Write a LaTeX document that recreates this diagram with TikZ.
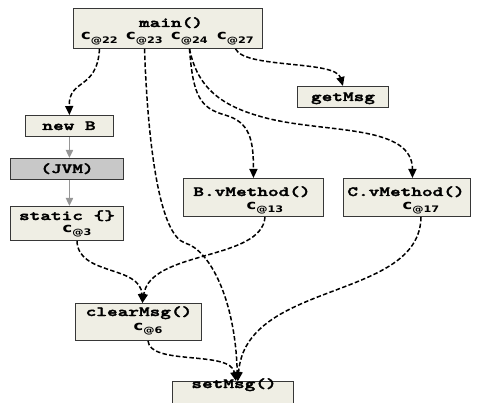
\documentclass[tikz,border=0pt]{standalone}
\usepackage{fontspec}
\usetikzlibrary{arrows.meta}
\newfontfamily\csansfnt[FakeStretch=1.25]{DejaVu Sans}
\newfontfamily\monofnt[FakeStretch=1.45,FakeBold=2.5]{lmmonolt10-bold.otf}
\definecolor{boxfill}{RGB}{239,238,228}
\definecolor{jvmfill}{RGB}{200,200,200}
\definecolor{boxline}{RGB}{55,55,55}
\definecolor{grayarr}{RGB}{150,150,150}
\newcommand{\callat}[1]{{\csansfnt\bfseries\fontsize{13}{13}\selectfont c\raisebox{-3.8pt}{\fontsize{9}{9}\selectfont @#1}}}
\newcommand{\ttl}[1]{{\monofnt\fontsize{14}{14}\selectfont #1}}
\begin{document}
\begin{tikzpicture}[x=1pt,y=-1pt,
  box/.style={draw=boxline, fill=boxfill, line width=0.9pt, inner sep=0pt, anchor=north west},
  title/.style={inner sep=0pt, anchor=base, text=black},
  clab/.style={inner sep=0pt, anchor=base, text=black},
  dashline/.style={draw=black, line width=1.5pt, dash pattern=on 4.5pt off 2.3pt, -{Triangle[length=9pt,width=8pt]}},
  grayline/.style={draw=grayarr, line width=1.8pt, -{Triangle[length=8pt,width=7pt]}}]
\useasboundingbox (0,0) rectangle (481,403);
% boxes
\node[box, minimum width=189pt, minimum height=40pt] (main) at (73,8) {};
\node[box, minimum width=91pt, minimum height=21pt] (getmsg) at (297,86) {};
\node[box, minimum width=88pt, minimum height=21pt] (newb) at (25,115) {};
\node[box, fill=jvmfill, minimum width=113pt, minimum height=21pt] (jvm) at (10,158) {};
\node[box, minimum width=113pt, minimum height=34pt] (static) at (10,206) {};
\node[box, minimum width=140pt, minimum height=38pt] (bv) at (183,178) {};
\node[box, minimum width=127pt, minimum height=38pt] (cv) at (343,178) {};
\node[box, minimum width=126pt, minimum height=37pt] (clear) at (75,303) {};
\node[box, minimum width=121pt, minimum height=26pt] (setmsg) at (172,381) {};
% titles
\node[title] (maint) at (171,27) {\ttl{main()}};
\node[title] (getmsgt) at (343,101) {\ttl{getMsg}};
\node[title] (newbt) at (69,130) {\ttl{new B}};
\node[title] (jvmt) at (67,173) {\ttl{(JVM)}};
\node[title] (statict) at (67,220) {\ttl{static \{\}}};
\node[title] (bvt) at (252,196) {\ttl{B.vMethod()}};
\node[title] (cvt) at (406,196) {\ttl{C.vMethod()}};
\node[title] (cleart) at (139,316) {\ttl{clearMsg()}};
\node[title] (setmsgt) at (234,388) {\ttl{setMsg()}};
% call-site labels
\node[clab] (c22) at (99.5,40) {\callat{22}};
\node[clab] (c23) at (144.5,40) {\callat{23}};
\node[clab] (c24) at (189.5,40) {\callat{24}};
\node[clab] (c27) at (235.5,40) {\callat{27}};
\node[clab] (c3) at (77,232) {\callat{3}};
\node[clab] (c13) at (265,209) {\callat{13}};
\node[clab] (c17) at (421,209) {\callat{17}};
\node[clab] (c6) at (148,330) {\callat{6}};
% mid coordinates
\coordinate (m23) at (185,243);
\coordinate (m24a) at (225,115);
\coordinate (m24b) at (270,119);
% gray arrows
\draw[grayline] (newb.south) -- (newb.south |- jvm.north);
\draw[grayline] (newb.south |- jvm.south) -- (newb.south |- static.north);
% dashed calls
\draw[dashline] (c22 |- main.south) .. controls +(-2.5,42) and +(-1,-37) .. (newb.north);
\draw[dashline] (c23 |- main.south) .. controls +(3.5,100) and +(-25,-8) .. (m23)
   .. controls +(25,7) and +(-2,-81) .. ([xshift=4.5pt]setmsg.north);
\draw[dashline] (c24 |- main.south) .. controls +(3.5,47) and +(-25,-7) .. (m24a)
   .. controls +(25,7) and +(0,-38) .. (bv.north);
\draw[dashline] (c24 |- main.south) .. controls +(8.5,42) and +(-45,-11) .. (m24b)
   .. controls +(60,14) and +(0,-53) .. ([xshift=5.5pt]cv.north);
\draw[dashline] (c27 |- main.south) .. controls +(9.5,20) and +(-7.5,-26) .. (getmsg.north);
\draw[dashline] (c3 |- static.south) .. controls +(1,35) and +(-2,-38) .. ([xshift=4pt]clear.north);
\draw[dashline] (c13 |- bv.south) .. controls +(-3,44) and +(8,-53) .. ([xshift=4pt]clear.north);
\draw[dashline] (c17 |- cv.south) .. controls +(-1,84) and +(7.5,-101) .. ([xshift=5pt]setmsg.north);
\draw[dashline] (c6 |- clear.south) .. controls +(2,25) and +(-5.5,-31) .. ([xshift=3pt]setmsg.north);
\end{tikzpicture}
\end{document}
